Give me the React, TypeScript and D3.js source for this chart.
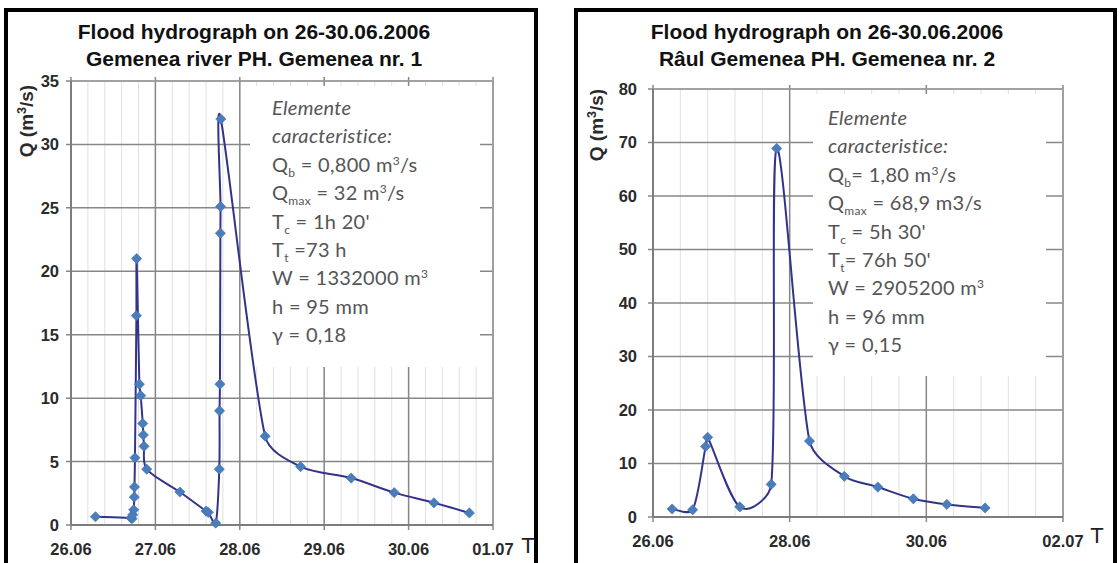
import React from "react";
import * as d3 from "d3";

// ---------- DATA ----------
const titleLine1 = "Flood hydrograph on 26-30.06.2006";
const leftTitleLine2 = "Gemenea river PH. Gemenea nr. 1";
const rightTitleLine2 = "Râul Gemenea PH. Gemenea nr. 2";

// time in days counted from 26.06 00:00
const leftDays = [0.29, 0.71, 0.723, 0.731, 0.743, 0.75, 0.752, 0.758, 0.775, 0.778, 0.81, 0.826, 0.85, 0.857, 0.865, 0.897, 1.29, 1.6, 1.627, 1.715, 1.757, 1.76, 1.765, 1.77, 1.772, 1.775, 2.3, 2.72, 3.32, 3.83, 4.3, 4.72];
const leftQ = [0.65, 0.55, 0.5, 0.8, 1.2, 2.2, 3.0, 5.3, 16.5, 21.0, 11.1, 10.2, 8.0, 7.1, 6.2, 4.4, 2.6, 1.1, 1.0, 0.15, 4.4, 9.0, 11.1, 23.0, 25.1, 32.0, 7.0, 4.6, 3.7, 2.55, 1.75, 0.95];

const rightDays = [0.28, 0.58, 0.77, 0.8, 1.27, 1.73, 1.81, 2.29, 2.8, 3.29, 3.81, 4.3, 4.86];
const rightQ = [1.5, 1.35, 13.2, 14.9, 1.9, 6.1, 68.9, 14.2, 7.6, 5.6, 3.4, 2.35, 1.7];

const leftXTickLabels = ["26.06", "27.06", "28.06", "29.06", "30.06", "01.07"];
const rightXTickLabels = ["26.06", "28.06", "30.06", "02.07"];
const leftYTicks = [0, 5, 10, 15, 20, 25, 30, 35];
const rightYTicks = [0, 10, 20, 30, 40, 50, 60, 70, 80];

type Seg = [string, "n" | "sub" | "sup"];
const leftNotes: Seg[][] = [
  [["Elemente", "n"]],
  [["caracteristice:", "n"]],
  [["Q", "n"], ["b", "sub"], [" = 0,800 m", "n"], ["3", "sup"], ["/s", "n"]],
  [["Q", "n"], ["max", "sub"], [" = 32 m", "n"], ["3", "sup"], ["/s", "n"]],
  [["T", "n"], ["c", "sub"], [" = 1h 20'", "n"]],
  [["T", "n"], ["t", "sub"], [" =73 h", "n"]],
  [["W = 1332000 m", "n"], ["3", "sup"]],
  [["h = 95 mm", "n"]],
  [["γ = 0,18", "n"]],
];
const rightNotes: Seg[][] = [
  [["Elemente", "n"]],
  [["caracteristice:", "n"]],
  [["Q", "n"], ["b", "sub"], ["= 1,80 m", "n"], ["3", "sup"], ["/s", "n"]],
  [["Q", "n"], ["max", "sub"], [" = 68,9 m3/s", "n"]],
  [["T", "n"], ["c", "sub"], [" = 5h 30'", "n"]],
  [["T", "n"], ["t", "sub"], ["= 76h 50'", "n"]],
  [["W = 2905200 m", "n"], ["3", "sup"]],
  [["h = 96 mm", "n"]],
  [["γ = 0,15", "n"]],
];

// ---------- LAYOUT ----------
interface PanelCfg {
  frame: [number, number, number, number];
  px0: number; px1: number; py0: number; py1: number;
  xMax: number; yMax: number; xMajor: number; minorStep: number;
  xLabels: string[]; yTicks: number[];
  days: number[]; q: number[];
  title2: string; titleX: number;
  yLabelX: number; yLabelY: number; yTickRight: number;
  xLabelBase: number; tX: number; tBase: number;
  box: [number, number, number, number];
  notes: Seg[][]; noteX: number; noteY: number;
}

const sans = "'Liberation Sans', Arial, sans-serif";
const noteFont = "Lato, 'Open Sans', sans-serif";
const lineColor = "#33338a";
const markerColor = "#4a7dbb";
const NOTE_FS = 20;

// Excel-like smoothed line: tangent direction from neighbours, length capped by segment length
function smoothPath(pts: [number, number][]): string {
  const p = d3.path();
  const n = pts.length;
  const tang = pts.map((_, i) => {
    const a = pts[Math.max(0, i - 1)];
    const b = pts[Math.min(n - 1, i + 1)];
    const dx = b[0] - a[0];
    const dy = b[1] - a[1];
    const len = Math.hypot(dx, dy) || 1;
    return [dx / len, dy / len, len / 6];
  });
  p.moveTo(pts[0][0], pts[0][1]);
  for (let i = 0; i < n - 1; i++) {
    const a = pts[i];
    const b = pts[i + 1];
    const L = Math.hypot(b[0] - a[0], b[1] - a[1]);
    const m1 = Math.min(tang[i][2], L / 3);
    const m2 = Math.min(tang[i + 1][2], L / 3);
    p.bezierCurveTo(
      a[0] + tang[i][0] * m1, a[1] + tang[i][1] * m1,
      b[0] - tang[i + 1][0] * m2, b[1] - tang[i + 1][1] * m2,
      b[0], b[1]
    );
  }
  return p.toString();
}

function NoteLine({ segs, x, y, italic }: { segs: Seg[]; x: number; y: number; italic: boolean }) {
  let shift = 0;
  return (
    <text x={x} y={y} fontFamily={noteFont} fontSize={NOTE_FS} letterSpacing={0.3} fill="#555" fontStyle={italic ? "italic" : "normal"}>
      {segs.map(([t, k], i) => {
        let dy = 0;
        let fs = NOTE_FS;
        if (k === "sub") { dy = 5 - shift; shift = 5; fs = 12; }
        else if (k === "sup") { dy = -7 - shift; shift = -7; fs = 12; }
        else { dy = -shift; shift = 0; }
        return (
          <tspan key={i} dy={dy} fontSize={fs}>{t}</tspan>
        );
      })}
    </text>
  );
}

function Panel({ c }: { c: PanelCfg }) {
  const x = d3.scaleLinear().domain([0, c.xMax]).range([c.px0, c.px1]);
  const y = d3.scaleLinear().domain([0, c.yMax]).range([c.py1, c.py0]);
  const minorTicks = d3.range(0, c.xMax + 1e-9, c.minorStep);
  const majorTicks = d3.range(0, c.xMax + 1e-9, c.xMajor);
  const pts: [number, number][] = c.days.map((d, i) => [x(d), y(c.q[i])]);
  const path = smoothPath(pts);
  const diamond = d3.symbol().type(d3.symbolSquare).size(52)() || "";
  const [fx, fy, fw, fh] = c.frame;
  const [bx, by, bw, bh] = c.box;
  return (
    <g>
      <rect x={fx} y={fy} width={fw} height={fh} fill="#fff" stroke="#000" strokeWidth={4} />
      {/* minor vertical grid */}
      {minorTicks.map((t, i) => (
        <line key={"mn" + i} x1={x(t)} x2={x(t)} y1={c.py0} y2={c.py1} stroke="#e0e0e0" strokeWidth={1} />
      ))}
      {/* major vertical grid */}
      {majorTicks.map((t, i) => (
        <line key={"mj" + i} x1={x(t)} x2={x(t)} y1={c.py0 - 4} y2={c.py1 + 5} stroke="#878787" strokeWidth={1.5} />
      ))}
      {/* horizontal grid */}
      {c.yTicks.map((t, i) => (
        <line key={"h" + i} x1={c.px0 - 5} x2={c.px1} y1={y(t)} y2={y(t)} stroke="#878787" strokeWidth={1.5} />
      ))}
      {/* annotation box */}
      <rect x={bx} y={by} width={bw} height={bh} fill="#fff" />
      {/* frame of plot */}
      <line x1={c.px1} x2={c.px1} y1={c.py0} y2={c.py1} stroke="#a0a0a0" strokeWidth={1.2} />
      <line x1={c.px0} x2={c.px1} y1={c.py0} y2={c.py0} stroke="#a0a0a0" strokeWidth={1.2} />
      <line x1={c.px0} x2={c.px0} y1={c.py0} y2={c.py1} stroke="#7d7d7d" strokeWidth={2} />
      <line x1={c.px0} x2={c.px1} y1={c.py1} y2={c.py1} stroke="#7d7d7d" strokeWidth={2} />
      {/* series */}
      <path d={path} fill="none" stroke={lineColor} strokeWidth={2} />
      {pts.map((p, i) => (
        <path key={"m" + i} d={diamond} transform={`translate(${p[0]},${p[1]}) rotate(45)`} fill={markerColor} stroke="#3f6fae" strokeWidth={0.6} />
      ))}
      {/* y ticks */}
      {c.yTicks.map((t, i) => (
        <text key={"yl" + i} x={c.yTickRight} y={y(t)} dy="0.36em" textAnchor="end" fontFamily={sans} fontWeight="bold" fontSize={16.5} fill="#2a2a2a">{t}</text>
      ))}
      {/* x ticks */}
      {majorTicks.map((t, i) => (
        <text key={"xl" + i} x={x(t)} y={c.xLabelBase} textAnchor="middle" fontFamily={sans} fontWeight="bold" fontSize={16.5} fill="#2a2a2a">{c.xLabels[i]}</text>
      ))}
      <text x={c.tX} y={c.tBase} textAnchor="middle" fontFamily={sans} fontSize={22} fill="#222">T</text>
      {/* y label */}
      <text transform={`translate(${c.yLabelX},${c.yLabelY}) rotate(-90)`} textAnchor="middle" fontFamily={sans} fontWeight="bold" fontSize={19} fill="#2a2a2a">
        <tspan>Q (m</tspan><tspan dy={-7} fontSize={12.5}>3</tspan><tspan dy={7}>/s)</tspan>
      </text>
      {/* titles */}
      <text x={c.titleX} y={39} textAnchor="middle" fontFamily={sans} fontWeight="bold" fontSize={21} fill="#111">{titleLine1}</text>
      <text x={c.titleX} y={66} textAnchor="middle" fontFamily={sans} fontWeight="bold" fontSize={21} fill="#111">{c.title2}</text>
      {/* notes */}
      {c.notes.map((segs, i) => (
        <NoteLine key={"n" + i} segs={segs} x={c.noteX} y={c.noteY + i * 28.4} italic={i < 2} />
      ))}
    </g>
  );
}

const leftCfg: PanelCfg = {
  frame: [6, 10, 530, 570],
  px0: 71, px1: 493, py0: 81, py1: 525,
  xMax: 5, yMax: 35, xMajor: 1, minorStep: 0.2,
  xLabels: leftXTickLabels, yTicks: leftYTicks,
  days: leftDays, q: leftQ,
  title2: leftTitleLine2, titleX: 254,
  yLabelX: 33, yLabelY: 121, yTickRight: 59,
  xLabelBase: 555, tX: 528, tBase: 553,
  box: [250, 86, 230, 281],
  notes: leftNotes, noteX: 272, noteY: 115,
};

const rightCfg: PanelCfg = {
  frame: [576, 10, 539, 570],
  px0: 653, px1: 1063, py0: 89, py1: 517,
  xMax: 6, yMax: 80, xMajor: 2, minorStep: 0.4,
  xLabels: rightXTickLabels, yTicks: rightYTicks,
  days: rightDays, q: rightQ,
  title2: rightTitleLine2, titleX: 827,
  yLabelX: 603, yLabelY: 125, yTickRight: 637,
  xLabelBase: 547, tX: 1097, tBase: 543,
  box: [813, 94, 233, 282],
  notes: rightNotes, noteX: 828, noteY: 125,
};

export default function App() {
  return (
    <svg width={1120} height={563} style={{ position: "absolute", left: 0, top: 0, background: "#fff" }}>
      <rect x={0} y={0} width={1120} height={563} fill="#fff" />
      <Panel c={leftCfg} />
      <Panel c={rightCfg} />
    </svg>
  );
}
